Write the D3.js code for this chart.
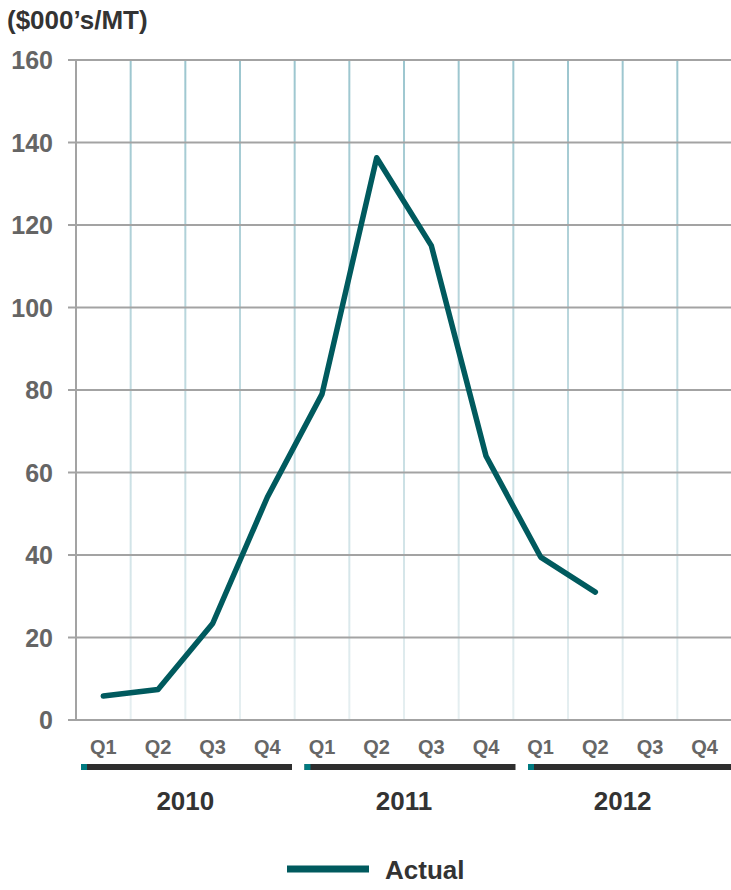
<!DOCTYPE html>
<html><head><meta charset="utf-8">
<script src="https://cdn.jsdelivr.net/npm/d3@7"></script>
<style>body{margin:0;background:#fff;}svg{display:block;font-family:Arial,"Liberation Sans",sans-serif;}</style>
</head><body><svg id="c" width="731" height="890"></svg>
<script>
const years = ["2010","2011","2012"];
const quarters = ["Q1","Q2","Q3","Q4"];
const periods = ["2010-Q1","2010-Q2","2010-Q3","2010-Q4","2011-Q1","2011-Q2","2011-Q3","2011-Q4","2012-Q1","2012-Q2","2012-Q3","2012-Q4"];
const actualPeriods = ["2010-Q1","2010-Q2","2010-Q3","2010-Q4","2011-Q1","2011-Q2","2011-Q3","2011-Q4","2012-Q1","2012-Q2"];
const actualValues = [5.8, 7.4, 23.4, 54, 79, 136.3, 115, 64, 39.5, 31];
const yTicks = [0,20,40,60,80,100,120,140,160];
const unitLabel = "($000\u2019s/MT)";
const seriesName = "Actual";

const svg = d3.select("#c");
const L = 76, R = 732, T = 60, B = 720;
const x = d3.scaleBand().domain(periods).range([L, R]).padding(0);
const y = d3.scaleLinear().domain([0,160]).range([B, T]);
const xYearBar = d3.scaleBand().domain(years).range([81, 81 + 3 * 223.5]).paddingInner(0);

const defs = svg.append("defs");
const g = defs.append("linearGradient").attr("id","vg").attr("x1",0).attr("y1",0).attr("x2",0).attr("y2",1);
g.append("stop").attr("offset","0%").attr("stop-color","#9cc6cf");
g.append("stop").attr("offset","100%").attr("stop-color","#e6eff1");

// vertical gridlines (between quarters)
svg.append("g").selectAll("rect").data(periods.slice(1)).join("rect")
  .attr("x", d => x(d) - 1).attr("y", T).attr("width", 2).attr("height", B - T)
  .attr("fill", "url(#vg)");

// horizontal gridlines
svg.append("g").selectAll("line").data(yTicks).join("line")
  .attr("x1", 68).attr("x2", 731).attr("y1", d => y(d)).attr("y2", d => y(d))
  .attr("stroke", "#a3a3a3").attr("stroke-width", 2);

// y axis line
svg.append("line").attr("x1", L).attr("x2", L).attr("y1", T).attr("y2", B)
  .attr("stroke", "#a3a3a3").attr("stroke-width", 2);

// y labels
svg.append("g").selectAll("text").data(yTicks).join("text")
  .attr("x", 53).attr("y", d => y(d)).attr("dy", "0.36em")
  .attr("text-anchor", "end").attr("font-size", 25).attr("font-weight", "bold")
  .attr("fill", "#656565").text(d => d);

// unit label
svg.append("text").attr("x", 7).attr("y", 29).attr("font-size", 26)
  .attr("font-weight", "bold").attr("fill", "#333").text(unitLabel);

// quarter labels
svg.append("g").selectAll("text").data(periods).join("text")
  .attr("x", d => x(d) + x.bandwidth()/2).attr("y", 754)
  .attr("text-anchor", "middle").attr("font-size", 20).attr("font-weight", "bold")
  .attr("fill", "#666").text(d => d.split("-")[1]);

// year bars
const yb = svg.append("g");
years.forEach((yr) => {
  const x0 = xYearBar(yr);
  const x1 = Math.min(x0 + xYearBar.bandwidth() - 12.5, 731);
  yb.append("rect").attr("x", x0).attr("y", 764).attr("width", x1 - x0).attr("height", 6).attr("fill", "#2e2e2e");
  yb.append("rect").attr("x", x0).attr("y", 764).attr("width", 6).attr("height", 6).attr("fill", "#007a80");
  yb.append("text").attr("x", (x(yr + "-Q1") + x(yr + "-Q4") + x.bandwidth()) / 2).attr("y", 810)
    .attr("text-anchor", "middle").attr("font-size", 26).attr("font-weight", "bold")
    .attr("fill", "#333").text(yr);
});

// line
const line = d3.line().x((d,i) => x(actualPeriods[i]) + x.bandwidth()/2).y(d => y(d));
svg.append("path").datum(actualValues).attr("d", line)
  .attr("fill", "none").attr("stroke", "#005a5e").attr("stroke-width", 5.5)
  .attr("stroke-linejoin", "round").attr("stroke-linecap", "round");

// legend
svg.append("line").attr("x1", 287).attr("x2", 369).attr("y1", 869).attr("y2", 869)
  .attr("stroke", "#005a5e").attr("stroke-width", 7);
svg.append("text").attr("x", 385).attr("y", 879).attr("font-size", 26)
  .attr("font-weight", "bold").attr("fill", "#333").text(seriesName);
</script></body></html>
